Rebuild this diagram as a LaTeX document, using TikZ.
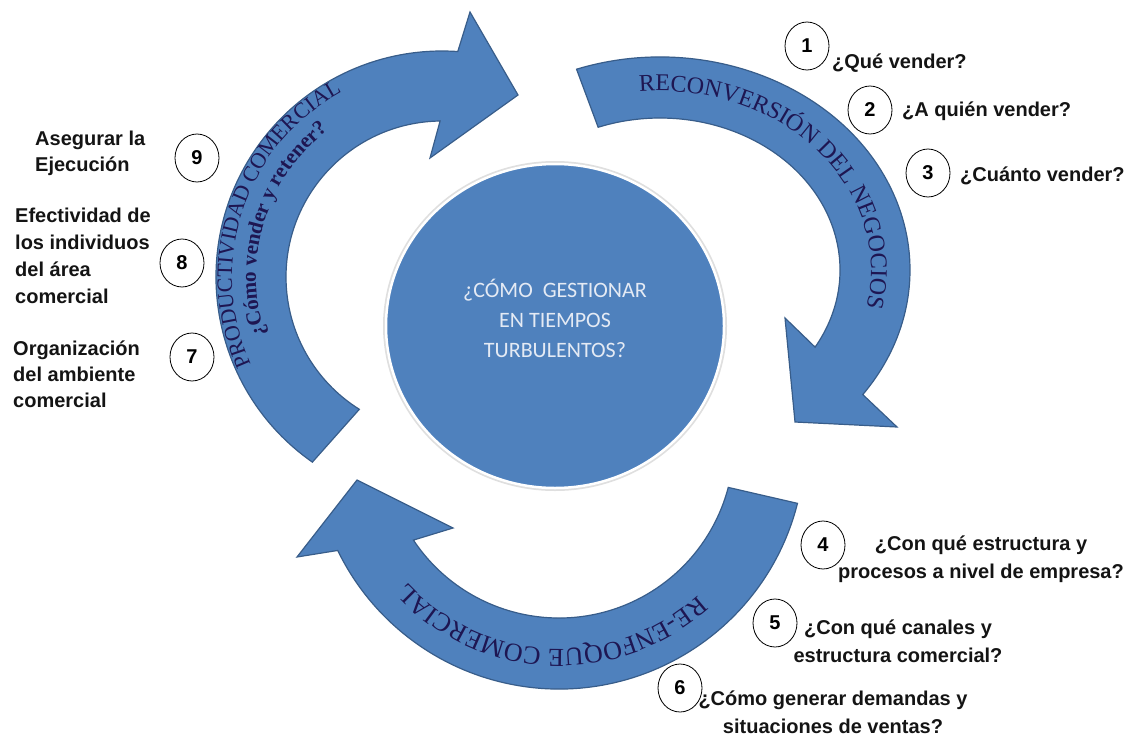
\documentclass[tikz,border=0pt]{standalone}
\usepackage{fontspec}
\setmainfont{Liberation Sans}
\newfontfamily\arcfont{Liberation Serif}
\newfontfamily\hubfont{Carlito}
\usetikzlibrary{shapes.geometric,decorations.text}
\definecolor{arrowblue}{RGB}{79,129,189}
\definecolor{arrowedge}{RGB}{56,93,138}
\definecolor{arcink}{RGB}{30,22,82}
\definecolor{hubink}{RGB}{228,234,244}
\definecolor{labelink}{RGB}{20,20,20}
\newcommand\arcbig{\arcfont\fontsize{24}{24}\selectfont}
\newcommand\arcmid{\arcfont\fontsize{22}{22}\selectfont}
\newcommand\arcbold{\arcfont\bfseries\fontsize{21}{21}\selectfont}
\newcommand\arclow{\arcfont\fontsize{26}{26}\selectfont}
\begin{document}
\begin{tikzpicture}[x=1pt,y=1pt,
  arrowbody/.style={fill=arrowblue, draw=arrowedge, line width=1.2pt, line join=miter},
  arclabel/.style={decorate, decoration={text along path, text align=center, text color=arcink, text={#1}}},
  hub/.style={ellipse, fill=arrowblue, draw=white, line width=2.5pt, minimum width=338pt, minimum height=324pt},
  hubtext/.style={text=hubink, font=\hubfont\fontsize{22}{30}\selectfont, align=center},
  numcirc/.style={ellipse, draw=black, line width=0.8pt, fill=white, minimum width=44pt, minimum height=48pt, inner sep=0pt, font=\bfseries\fontsize{20}{20}\selectfont},
  qlabel/.style={text=labelink, font=\bfseries\fontsize{20}{28}\selectfont, inner sep=0pt}]
\useasboundingbox (0,0) rectangle (1131,-736);

% centre
\fill[gray!25] (555,-326) ellipse[x radius=172pt, y radius=165pt];
\node[hub] (hub) at (555,-326) {};
\node[hubtext] (hubq) at ([yshift=8pt]hub.center) {¿CÓMO~ GESTIONAR\\EN TIEMPOS\\TURBULENTOS?};

% reconversion del negocio
\begin{scope}[shift={(660,-270)}]
\draw[arrowbody] ({250*cos(109.5)},{213*sin(109.5)}) arc[start angle=109.5, end angle=-35.8, x radius=250pt, y radius=213pt] -- (237,-157) -- (135,-152) -- (125,-48) -- ({180*cos(-30.5)},{152*sin(-30.5)}) arc[start angle=-30.5, end angle=110.1, x radius=180pt, y radius=152pt] -- cycle;
\path[arclabel={|\arcbig|RECONVERSIÓN DEL NEGOCIOS}] ({211*cos(99)},{179*sin(99)}) arc[start angle=99, end angle=-16, x radius=211pt, y radius=179pt];
\end{scope}

% re-enfoque comercial
\begin{scope}[shift={(559,-443)}]
\draw[arrowbody] (-14.2:246) arc[start angle=-14.2, end angle=-154.1, radius=246pt] -- (-262,-114) -- (-202,-37) -- (-106,-85) -- (-146.3:175) arc[start angle=-146.3, end angle=-14.7, radius=175pt] -- cycle;
\path[arclabel={|\arclow|RE-ENFOQUE COMERCIAL}] (-44:206) arc[start angle=-44, end angle=-141, radius=206pt];
\end{scope}

% productividad comercial
\begin{scope}[shift={(442,-277)}]
\draw[arrowbody] (235:226) arc[start angle=235, end angle=86, radius=226pt] -- (28,265) -- (76,182) -- (-12,119) -- (90.7:156) arc[start angle=90.7, end angle=238, radius=156pt] -- cycle;
\path[arclabel={|\arcmid|PRODUCTIVIDAD COMERCIAL}] (208:210) arc[start angle=208, end angle=115, radius=210pt];
\path[arclabel={|\arcbold|¿Cómo vender y retener?}] (205:186) arc[start angle=205, end angle=121, radius=186pt];
\end{scope}

% numbered questions
\node[numcirc] (n1) at (807,-46) {1};
\node[numcirc] (n2) at (870,-110) {2};
\node[numcirc] (n3) at (928,-173) {3};
\node[numcirc] (n4) at (823,-545) {4};
\node[numcirc] (n5) at (775,-623) {5};
\node[numcirc] (n6) at (680,-688) {6};
\node[numcirc] (n7) at (192,-357) {7};
\node[numcirc] (n8) at (182,-263) {8};
\node[numcirc] (n9) at (197,-158) {9};

\node[qlabel, anchor=west] (q1) at (832,-63) {¿Qué vender?};
\node[qlabel, anchor=west] (q2) at (902,-111) {¿A quién vender?};
\node[qlabel, anchor=west] (q3) at (960,-176) {¿Cuánto vender?};
\node[qlabel, align=center] (q4) at (981,-559) {¿Con qué estructura y\\procesos a nivel de empresa?};
\node[qlabel, align=center] (q5) at (898,-641) {¿Con qué canales y\\estructura comercial?};
\node[qlabel, align=center] (q6) at (833,-712) {¿Cómo generar demandas y\\situaciones de ventas?};
\node[qlabel, align=left, anchor=west, font=\bfseries\fontsize{20}{26}\selectfont] (q9) at (35,-153) {Asegurar la\\Ejecución};
\node[qlabel, align=left, anchor=west, font=\bfseries\fontsize{20}{27}\selectfont] (q8) at (15,-256) {Efectividad de\\los individuos\\del área\\comercial};
\node[qlabel, align=left, anchor=west, font=\bfseries\fontsize{20}{26}\selectfont] (q7) at (13,-374) {Organización\\del ambiente\\comercial};
\end{tikzpicture}
\end{document}
